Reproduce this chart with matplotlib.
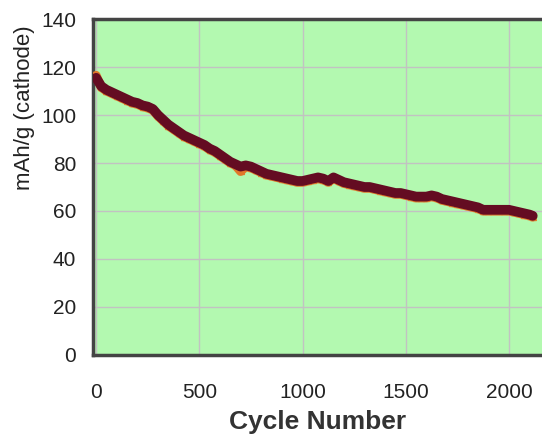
import matplotlib.pyplot as plt

# cycle number vs specific capacity (read every 25 cycles)
cycles = [0, 25, 50, 75, 100, 125, 150, 175, 200, 225, 250, 275, 300, 325, 350, 375,
          400, 425, 450, 475, 500, 525, 550, 575, 600, 625, 650, 675, 700, 725, 750,
          775, 800, 825, 850, 875, 900, 925, 950, 975, 1000, 1025, 1050, 1075, 1100,
          1125, 1150, 1175, 1200, 1225, 1250, 1275, 1300, 1325, 1350, 1375, 1400,
          1425, 1450, 1475, 1500, 1525, 1550, 1575, 1600, 1625, 1650, 1675, 1700,
          1725, 1750, 1775, 1800, 1825, 1850, 1875, 1900, 1925, 1950, 1975, 2000,
          2025, 2050, 2075, 2100, 2115]
discharge = [115.5, 112, 110.5, 109.5, 108.5, 107.5, 106.5, 105.5, 105, 104, 103.5, 102.5,
             100, 98, 96, 94.5, 93, 91.5, 90.5, 89.5, 88.5, 87.5, 86, 85, 83.5, 82, 80.5,
             79.5, 78.5, 79, 78.5, 77.5, 76.5, 75.5, 75, 74.5, 74, 73.5, 73, 72.5, 72.5,
             73, 73.5, 74, 73.5, 72.5, 74, 73, 72, 71.5, 71, 70.5, 70, 70, 69.5, 69,
             68.5, 68, 67.5, 67.5, 67, 66.5, 66, 66, 66, 66.5, 66, 65, 64.5, 64, 63.5,
             63, 62.5, 62, 61.5, 60.5, 60.5, 60.5, 60.5, 60.5, 60.5, 60, 59.5, 59, 58.5, 58]
charge = [116.5, 111.5, 110, 109, 108, 107, 106, 105, 104.5, 103.5, 103, 102,
          99.5, 97.5, 95.5, 94, 92.5, 91, 90, 89, 88, 87, 85.5, 84.5, 83, 81.5, 80,
          79, 76.5, 78.5, 78, 77, 76, 75, 74.5, 74, 73.5, 73, 72.5, 72, 72,
          72.5, 73, 73.5, 73, 72, 73.5, 72.5, 71.5, 71, 70.5, 70, 69.5, 69.5, 69, 68.5,
          68, 67.5, 67, 67, 66.5, 66, 65.5, 65.5, 65.5, 66, 65.5, 64.5, 64, 63.5, 63,
          62.5, 62, 61.5, 61, 60, 60, 60, 60, 60, 60, 59.5, 59, 58.5, 58, 57.5]

FONT = ["Liberation Sans", "DejaVu Sans"]

fig = plt.figure(figsize=(5.42, 4.36), dpi=100)
ax = fig.add_axes([0.1716, 0.1858, 0.8284, 0.7706])
ax.set_facecolor("#b3f9b0")

ax.plot(cycles, charge, color="#e0782a", linewidth=6.5, solid_capstyle="round", zorder=3)
ax.plot(cycles, charge, "^", color="#e0782a", markersize=5, zorder=3)
ax.plot(cycles, discharge, color="#640c22", linewidth=7, solid_capstyle="round", zorder=4)

ax.set_xlim(-15, 2160)
ax.set_ylim(0, 140)
ax.set_xticks([0, 500, 1000, 1500, 2000])
ax.set_yticks(range(0, 141, 20))
ax.grid(True, color="#c2c2c2", linewidth=1)
ax.set_axisbelow(True)

for side in ["left", "bottom", "top"]:
    ax.spines[side].set_color("#444444")
    ax.spines[side].set_linewidth(2.5)
ax.spines["right"].set_visible(False)

ax.tick_params(length=0, labelsize=15, colors="#222222")
ax.tick_params(axis="x", pad=20)
ax.tick_params(axis="y", pad=12)
for lab in ax.get_xticklabels() + ax.get_yticklabels():
    lab.set_family(FONT)

ax.set_xlabel("Cycle Number", fontsize=19, fontweight="bold", color="#333333",
              family=FONT, labelpad=6)
ax.set_ylabel("mAh/g (cathode)", fontsize=16, color="#222222", family=FONT)
ax.yaxis.set_label_coords(-0.13, 0.735)

fig.savefig("out.png", dpi=100)
